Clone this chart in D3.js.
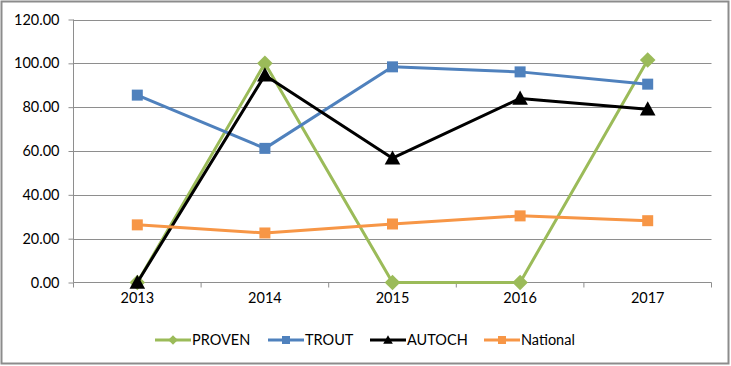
<!DOCTYPE html>
<html><head><meta charset="utf-8">
<script src="https://cdn.jsdelivr.net/npm/d3@7"></script>
<style>body{margin:0;background:#fff}svg{display:block}text{font-family:Lato,"Open Sans",sans-serif;fill:#000}</style>
</head><body><svg id="c" width="731" height="366"></svg>
<script>
const years = ["2013","2014","2015","2016","2017"];
const proven = [0, 100, 0, 0, 101.5];
const trout = [85.5, 61.2, 98.4, 96.1, 90.5];
const autoch = [0, 94.6, 56.7, 84, 79.1];
const national = [26.3, 22.6, 26.7, 30.4, 28.2];
const yTicks = [0, 20, 40, 60, 80, 100, 120];

const series = [
  {name:"PROVEN", values:proven, color:"#9BBB59", marker:"diamond"},
  {name:"TROUT", values:trout, color:"#4F81BD", marker:"square"},
  {name:"AUTOCH", values:autoch, color:"#000000", marker:"triangle"},
  {name:"National", values:national, color:"#F79646", marker:"square"}
];
const FS = 14.5;

const svg = d3.select("#c");
svg.append("rect").attr("x",1.5).attr("y",1.5).attr("width",727).attr("height",362)
  .attr("fill","#fff").attr("stroke","#8c8c8c").attr("stroke-width",2);

const L=73.5, R=711.5, T=19.5, B=282.5;
const x = d3.scaleBand().domain(years).range([L,R]).padding(0);
const y = d3.scaleLinear().domain([0,120]).range([B,T]);

// gridlines
svg.append("g").selectAll("line").data(yTicks.filter(d=>d>0)).join("line")
  .attr("x1",L).attr("x2",R).attr("y1",d=>Math.round(y(d))+0.5).attr("y2",d=>Math.round(y(d))+0.5)
  .attr("stroke","#8e8e8e").attr("stroke-width",1);

// y axis
const ya = svg.append("g").attr("transform",`translate(${L},0)`)
  .call(d3.axisLeft(y).tickValues(yTicks).tickFormat(d3.format(".2f")).tickSize(5).tickPadding(9));
ya.select(".domain").attr("stroke","#8e8e8e").attr("d",`M0,${T}V${B}`);
ya.selectAll(".tick line").attr("stroke","#8e8e8e");
ya.selectAll("text").attr("font-size",FS).style("font-family","Lato, sans-serif");

// x axis
const xa = svg.append("g").attr("transform",`translate(0,${B})`)
  .call(d3.axisBottom(x).tickSize(0).tickPadding(10));
xa.select(".domain").attr("stroke","#8e8e8e").attr("d",`M${L},0H${R}`);
xa.selectAll("text").attr("font-size",FS).style("font-family","Lato, sans-serif");
const bounds = [L].concat(years.map(d=>x(d)+x.bandwidth()));
xa.selectAll(".bt").data(bounds).join("line").attr("class","bt")
  .attr("x1",d=>d).attr("x2",d=>d).attr("y1",0).attr("y2",5).attr("stroke","#8e8e8e");

const cx = d=>x(d)+x.bandwidth()/2;
const line = d3.line().x((v,i)=>cx(years[i])).y(v=>y(v));

function marker(g, type, color, px, py, s){
  if(type==="square"){
    g.append("rect").attr("x",px-s/2).attr("y",py-s/2).attr("width",s).attr("height",s).attr("fill",color);
  } else if(type==="diamond"){
    const h=s*0.6;
    g.append("path").attr("d",`M${px},${py-h}L${px+h},${py}L${px},${py+h}L${px-h},${py}Z`).attr("fill",color);
  } else {
    const h=s*0.6;
    g.append("path").attr("d",`M${px},${py-h}L${px+h},${py+h*0.8}L${px-h},${py+h*0.8}Z`).attr("fill",color);
  }
}

series.forEach(s=>{
  const g = svg.append("g");
  g.append("path").datum(s.values).attr("d",line).attr("fill","none")
    .attr("stroke",s.color).attr("stroke-width",3).attr("stroke-linejoin","round");
  s.values.forEach((v,i)=>marker(g,s.marker,s.color,cx(years[i]),y(v),s.marker==="square"?11:13));
});

// legend
const legX = [155, 268, 370, 484];
const legY = 340;
series.forEach((s,i)=>{
  const g = svg.append("g");
  g.append("line").attr("x1",legX[i]).attr("x2",legX[i]+36).attr("y1",legY).attr("y2",legY)
    .attr("stroke",s.color).attr("stroke-width",3);
  marker(g,s.marker,s.color,legX[i]+18,legY,s.marker==="square"?8:8);
  g.append("text").attr("x",legX[i]+37).attr("y",legY).attr("dy","0.35em")
    .attr("font-size",FS).text(s.name);
});
</script></body></html>
